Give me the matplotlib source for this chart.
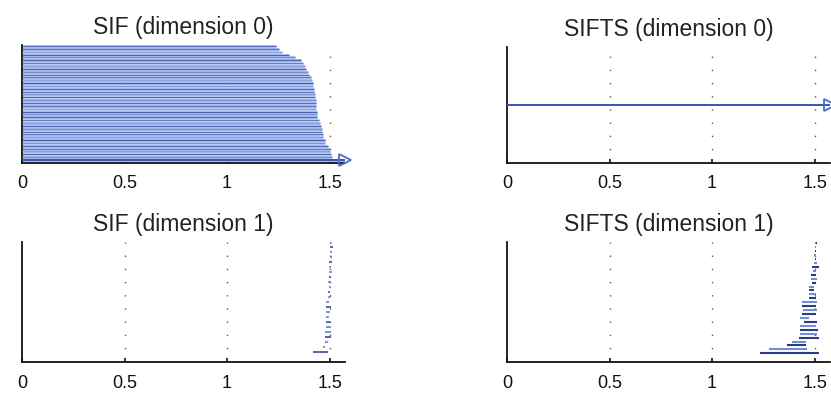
import numpy as np
import matplotlib
matplotlib.use("Agg")
import matplotlib.pyplot as plt

plt.rcParams['font.family'] = ['Liberation Sans', 'DejaVu Sans']

titles = ["SIF (dimension 0)", "SIFTS (dimension 0)", "SIF (dimension 1)", "SIFTS (dimension 1)"]
xticks = [0, 0.5, 1, 1.5]
xticklabels = ["0", "0.5", "1", "1.5"]

# SIF dimension 0: births all 0, deaths listed bottom -> top (first is infinite)
sif0_birth = [0.0] * 41
sif0_death = [np.inf, 1.512, 1.508, 1.504, 1.500, 1.490, 1.476, 1.476, 1.470, 1.466,
              1.464, 1.462, 1.460, 1.452, 1.446, 1.440, 1.438, 1.437, 1.436, 1.435,
              1.435, 1.432, 1.429, 1.427, 1.424, 1.422, 1.420, 1.419, 1.415, 1.411,
              1.400, 1.395, 1.385, 1.378, 1.370, 1.362, 1.330, 1.300, 1.270, 1.255,
              1.237]

# SIFTS dimension 0: single infinite bar
sifts0_birth = [0.0]
sifts0_death = [np.inf]

# SIF dimension 1 (bottom -> top)
sif1_birth = [1.419, 1.468, 1.476, 1.476, 1.476, 1.480, 1.482, 1.484, 1.480, 1.484,
              1.484, 1.492, 1.492, 1.497, 1.492, 1.497, 1.497, 1.497, 1.497, 1.500,
              1.500, 1.504, 1.504]
sif1_death = [1.492, 1.476, 1.492, 1.508, 1.505, 1.508, 1.500, 1.497, 1.500, 1.508,
              1.497, 1.508, 1.504, 1.508, 1.508, 1.508, 1.512, 1.508, 1.512, 1.512,
              1.512, 1.516, 1.512]

# SIFTS dimension 1 (bottom -> top)
sifts1_birth = [1.236, 1.277, 1.366, 1.391, 1.423, 1.431, 1.431, 1.431, 1.448, 1.431,
                1.440, 1.444, 1.440, 1.440, 1.472, 1.472, 1.472, 1.472, 1.488, 1.480,
                1.480, 1.493, 1.488, 1.497, 1.500, 1.497, 1.502, 1.502, 1.505]
sifts1_death = [1.521, 1.464, 1.456, 1.456, 1.521, 1.513, 1.517, 1.505, 1.513, 1.472,
                1.509, 1.513, 1.505, 1.513, 1.505, 1.505, 1.497, 1.497, 1.505, 1.513,
                1.509, 1.509, 1.521, 1.513, 1.507, 1.509, 1.507, 1.509, 1.513]

XMAX = 1.575
W, H = 831, 395
fig = plt.figure(figsize=(W / 100, H / 100), dpi=100)

def px_axes(x0, x1, ytop, ybot):
    return fig.add_axes([x0 / W, 1 - ybot / H, (x1 - x0) / W, (ybot - ytop) / H])

ax00 = px_axes(22, 345, 45, 163)
ax01 = px_axes(507, 830, 47, 163)
ax10 = px_axes(22, 345, 242, 362)
ax11 = px_axes(507, 830, 242, 362)

def style(ax, title):
    ax.set_xlim(0, XMAX)
    ax.set_xticks(xticks)
    ax.set_xticklabels(xticklabels)
    ax.set_yticks([])
    for s in ['top', 'right']:
        ax.spines[s].set_visible(False)
    for s in ['left', 'bottom']:
        ax.spines[s].set_linewidth(1.3)
        ax.spines[s].set_color('#111111')
    ax.tick_params(axis='x', direction='in', length=3, width=1.2, pad=9,
                   labelsize=13, colors='#111111')
    for xv in xticks[1:]:
        ax.axvline(xv, color='#555555', lw=1.0, linestyle=(0, (1.0, 8.5)), zorder=0)
    ax.set_title(title, fontsize=16.5, pad=8, color='#222222')

def inf_bar(ax, y, b, color):
    ax.plot([b, XMAX], [y, y], color=color, lw=1.4, solid_capstyle='butt', zorder=3)
    ax.plot([XMAX], [y], marker='>', markersize=8, markerfacecolor='none',
            markeredgecolor='#4a6ccf', markeredgewidth=1.3, clip_on=False, zorder=4)

# SIF dim 0
light = ['#a9bcee', '#a2b6ea', '#b6c6f0', '#9cb0e6']
dark = ['#3a55aa', '#6d86cc', '#2f4a9e', '#8298d4', '#5069b8']
for i, (b, d) in enumerate(zip(sif0_birth, sif0_death)):
    if np.isinf(d):
        ax00.plot([b, XMAX], [i, i], color='#a7b9ea', lw=2.1, solid_capstyle='butt', zorder=2)
        inf_bar(ax00, i, b, '#3a55aa')
    else:
        ax00.plot([b, d], [i, i], color=light[i % 4], lw=2.1, solid_capstyle='butt', zorder=2)
        ax00.plot([b, d], [i, i], color=dark[i % 5], lw=0.55, solid_capstyle='butt', zorder=3)
ax00.set_ylim(-1.05, 40.35)
style(ax00, titles[0])

# SIFTS dim 0
for i, (b, d) in enumerate(zip(sifts0_birth, sifts0_death)):
    inf_bar(ax01, i + 1, b, '#3a55aa')
ax01.set_ylim(0, 2)
style(ax01, titles[1])

# SIF dim 1
for i, (b, d) in enumerate(zip(sif1_birth, sif1_death)):
    c = '#2c3c82' if i % 3 == 0 else '#5a78c8'
    ax10.plot([b, d], [i + 1, i + 1], color=c, lw=1.1, solid_capstyle='butt', zorder=3)
ax10.set_ylim(-0.94, 23.1)
style(ax10, titles[2])

# SIFTS dim 1
for i, (b, d) in enumerate(zip(sifts1_birth, sifts1_death)):
    c = '#2c3c82' if i % 2 == 0 else '#6f8ed8'
    ax11.plot([b, d], [i + 1, i + 1], color=c, lw=1.5, solid_capstyle='butt', zorder=3)
ax11.set_ylim(-1.2, 29.33)
style(ax11, titles[3])

fig.savefig("out.png", dpi=100)
